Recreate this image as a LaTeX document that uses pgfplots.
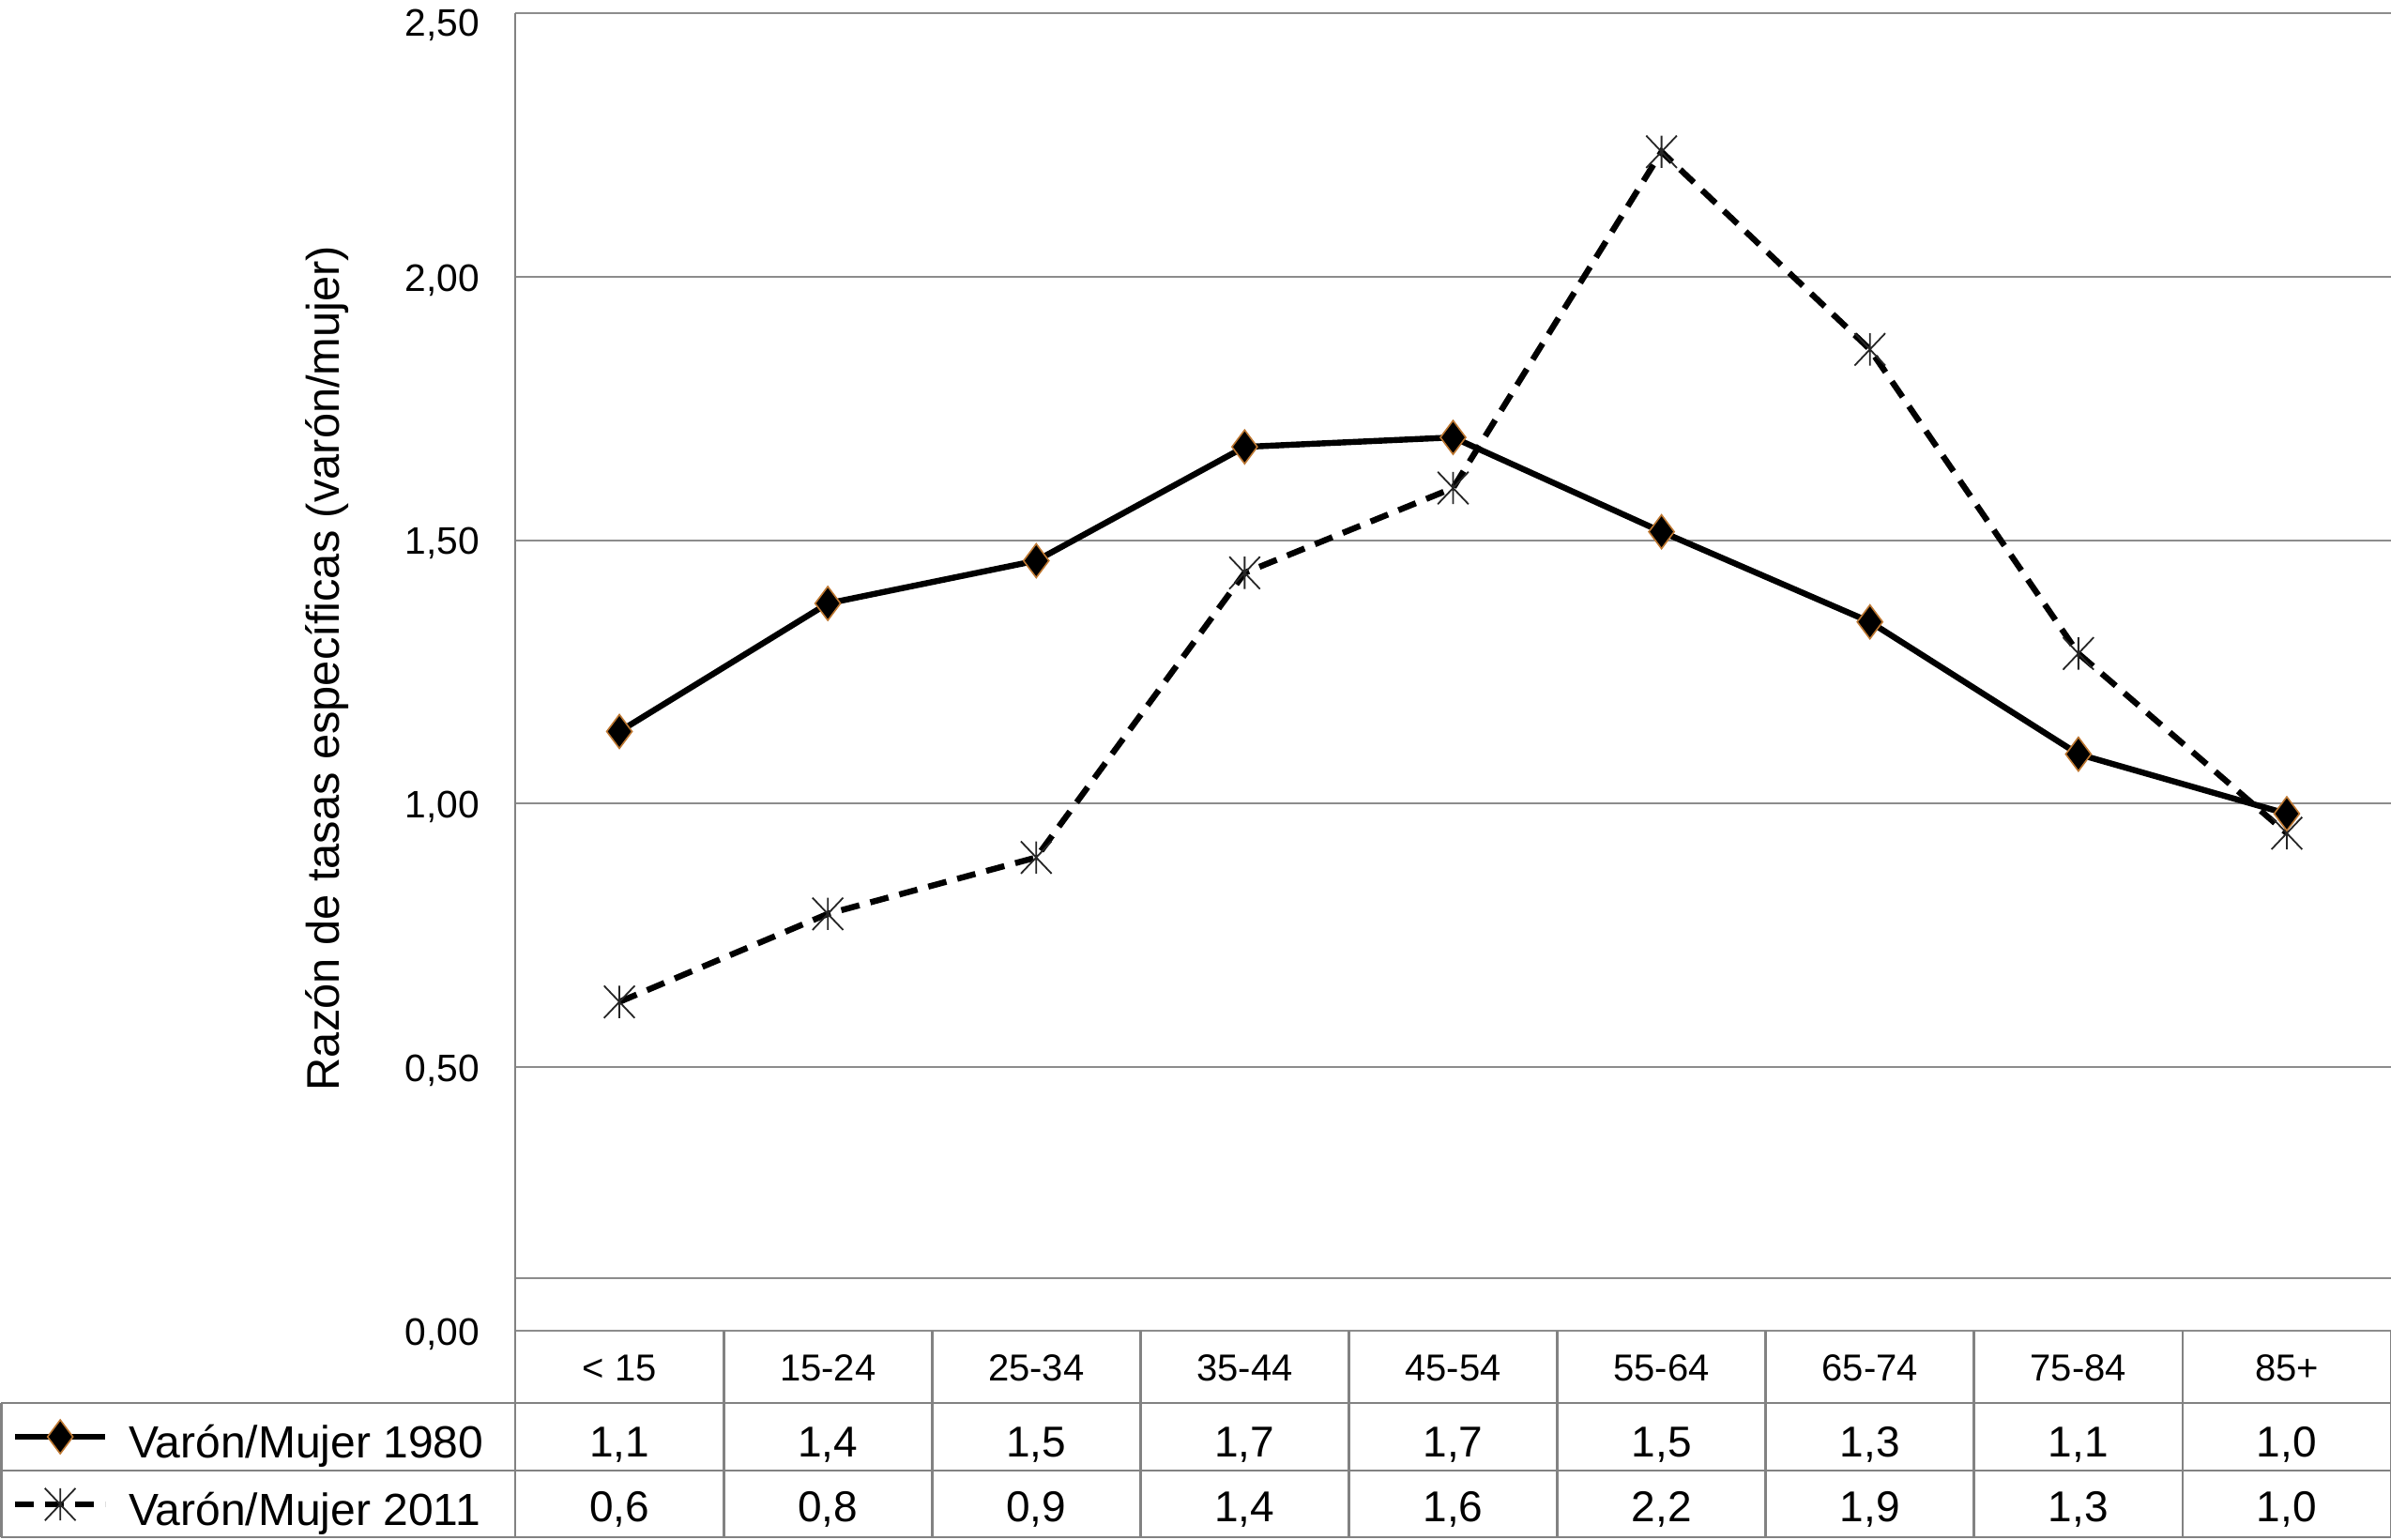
\documentclass[border=0pt]{standalone}
\usepackage{pgfplots}
\pgfplotsset{compat=1.18}
\usepackage{fontspec}
\setmainfont{Liberation Sans}
\definecolor{gridgray}{RGB}{140,140,140}
\definecolor{tablegray}{RGB}{130,130,130}
\definecolor{mkedge}{RGB}{190,120,50}
\pgfdeclareplotmark{xstar}{%
  \pgfpathmoveto{\pgfqpoint{0pt}{\pgfplotmarksize}}\pgfpathlineto{\pgfqpoint{0pt}{-\pgfplotmarksize}}%
  \pgfpathmoveto{\pgfqpoint{-0.95\pgfplotmarksize}{\pgfplotmarksize}}\pgfpathlineto{\pgfqpoint{0.95\pgfplotmarksize}{-\pgfplotmarksize}}%
  \pgfpathmoveto{\pgfqpoint{-0.95\pgfplotmarksize}{-\pgfplotmarksize}}\pgfpathlineto{\pgfqpoint{0.95\pgfplotmarksize}{\pgfplotmarksize}}%
  \pgfusepathqstroke}
\begin{document}
\begin{tikzpicture}
\begin{axis}[
  scale only axis, width=499.75pt, height=351pt,
  xmin=-0.5, xmax=8.5, ymin=0, ymax=2.5,
  clip=false,
  axis line style={draw=none}, tick style={draw=none},
  xtick={0,...,8},
  xticklabels={< 15,15-24,25-34,35-44,45-54,55-64,65-74,75-84,85+},
  xticklabel style={anchor=base, inner sep=0pt, yshift=-13.3pt, font=\fontsize{10}{12}\selectfont},
  ytick={0,0.5,1,1.5,2,2.5},
  /pgf/number format/.cd, fixed, fixed zerofill, precision=2, use comma, assume math mode=true,
  /pgfplots/.cd,
  yticklabel={\ifnum\ticknum=5\relax\raisebox{-2.25pt}{\pgfmathprintnumber{\tick}}\else\pgfmathprintnumber{\tick}\fi},
  yticklabel style={anchor=base east, inner sep=0pt, xshift=-9.25pt, yshift=-3.8pt, font=\fontsize{10.2}{12}\selectfont},
  ymajorgrids, grid style={gridgray, line width=0.5pt},
  reverse legend,
  legend cell align=left,
  legend style={at={(axis description cs:0,0)}, anchor=north west, xshift=-134pt, yshift=-19.25pt,
    draw=none, fill=none, inner sep=0pt, outer sep=0pt, row sep=0pt, column sep=5.5pt,
    font=\fontsize{12}{14}\selectfont,
    nodes={inner sep=0pt, text height=14.5pt, text depth=3.5pt}},
  legend image code/.code={\draw[mark repeat=2,mark phase=2,#1] plot coordinates {(0pt,0pt) (12pt,0pt) (24pt,0pt)};},
]
% extra horizontal line near the bottom of the plot area
\draw[gridgray, line width=0.5pt] (axis cs:-0.5,0.1) -- (axis cs:8.5,0.1);

\addplot[black, line width=1.6pt, dash pattern=on 5pt off 3pt, mark=xstar, mark size=4.3pt,
  mark options={solid, draw=black!85, line width=0.45pt}]
  coordinates {(0,0.624) (1,0.791) (2,0.898) (3,1.438) (4,1.599) (5,2.237) (6,1.862) (7,1.285) (8,0.944)};
\addlegendentry{Varón/Mujer 2011}
\addplot[black, line width=1.6pt, mark=diamond*, mark size=4.5pt,
  mark options={solid, fill=black, draw=mkedge, line width=0.4pt}]
  coordinates {(0,1.137) (1,1.380) (2,1.461) (3,1.677) (4,1.695) (5,1.516) (6,1.345) (7,1.094) (8,0.981)};
\addlegendentry{Varón/Mujer 1980}

% data table lines
\draw[tablegray, line width=0.7pt] ([shift={(-136.9pt,-19.25pt)}]axis cs:-0.5,0) -- ([yshift=-19.25pt]axis cs:8.5,0);
\draw[tablegray, line width=0.7pt] ([shift={(-136.9pt,-37.25pt)}]axis cs:-0.5,0) -- ([yshift=-37.25pt]axis cs:8.5,0);
\draw[tablegray, line width=0.7pt] ([shift={(-136.9pt,-55pt)}]axis cs:-0.5,0) -- ([yshift=-55pt]axis cs:8.5,0);
\draw[tablegray, line width=0.7pt] ([shift={(-136.9pt,-19.25pt)}]axis cs:-0.5,0) -- ([shift={(-136.9pt,-55pt)}]axis cs:-0.5,0);
\draw[tablegray, line width=0.6pt] (axis cs:-0.5,2.5) -- ([yshift=-55pt]axis cs:-0.5,0);
\draw[tablegray, line width=0.7pt] (axis cs:0.5,0) -- ([yshift=-55pt]axis cs:0.5,0);
\draw[tablegray, line width=0.7pt] (axis cs:1.5,0) -- ([yshift=-55pt]axis cs:1.5,0);
\draw[tablegray, line width=0.7pt] (axis cs:2.5,0) -- ([yshift=-55pt]axis cs:2.5,0);
\draw[tablegray, line width=0.7pt] (axis cs:3.5,0) -- ([yshift=-55pt]axis cs:3.5,0);
\draw[tablegray, line width=0.7pt] (axis cs:4.5,0) -- ([yshift=-55pt]axis cs:4.5,0);
\draw[tablegray, line width=0.7pt] (axis cs:5.5,0) -- ([yshift=-55pt]axis cs:5.5,0);
\draw[tablegray, line width=0.7pt] (axis cs:6.5,0) -- ([yshift=-55pt]axis cs:6.5,0);
\draw[tablegray, line width=0.7pt] (axis cs:7.5,0) -- ([yshift=-55pt]axis cs:7.5,0);
\draw[tablegray, line width=0.7pt] (axis cs:8.5,0) -- ([yshift=-55pt]axis cs:8.5,0);

% table values
\tikzset{tv/.style={anchor=base, inner sep=0pt, font=\fontsize{11.5}{13}\selectfont}}
\node[tv] at ([yshift=-33.5pt]axis cs:0,0) {1,1};
\node[tv] at ([yshift=-33.5pt]axis cs:1,0) {1,4};
\node[tv] at ([yshift=-33.5pt]axis cs:2,0) {1,5};
\node[tv] at ([yshift=-33.5pt]axis cs:3,0) {1,7};
\node[tv] at ([yshift=-33.5pt]axis cs:4,0) {1,7};
\node[tv] at ([yshift=-33.5pt]axis cs:5,0) {1,5};
\node[tv] at ([yshift=-33.5pt]axis cs:6,0) {1,3};
\node[tv] at ([yshift=-33.5pt]axis cs:7,0) {1,1};
\node[tv] at ([yshift=-33.5pt]axis cs:8,0) {1,0};
\node[tv] at ([yshift=-50.8pt]axis cs:0,0) {0,6};
\node[tv] at ([yshift=-50.8pt]axis cs:1,0) {0,8};
\node[tv] at ([yshift=-50.8pt]axis cs:2,0) {0,9};
\node[tv] at ([yshift=-50.8pt]axis cs:3,0) {1,4};
\node[tv] at ([yshift=-50.8pt]axis cs:4,0) {1,6};
\node[tv] at ([yshift=-50.8pt]axis cs:5,0) {2,2};
\node[tv] at ([yshift=-50.8pt]axis cs:6,0) {1,9};
\node[tv] at ([yshift=-50.8pt]axis cs:7,0) {1,3};
\node[tv] at ([yshift=-50.8pt]axis cs:8,0) {1,0};

% y label
\node[rotate=90, font=\fontsize{12.2}{14}\selectfont] at ([xshift=-50pt,yshift=1pt]axis description cs:0,0.5) {Razón de tasas específicas (varón/mujer)};

\coordinate (BL) at ([shift={(-137.25pt,-55.5pt)}]axis cs:-0.5,0);
\coordinate (TR) at ([yshift=3.5pt]axis cs:8.5,2.5);
\end{axis}
\pgfresetboundingbox
\useasboundingbox (BL) rectangle (TR);
\end{tikzpicture}
\end{document}
